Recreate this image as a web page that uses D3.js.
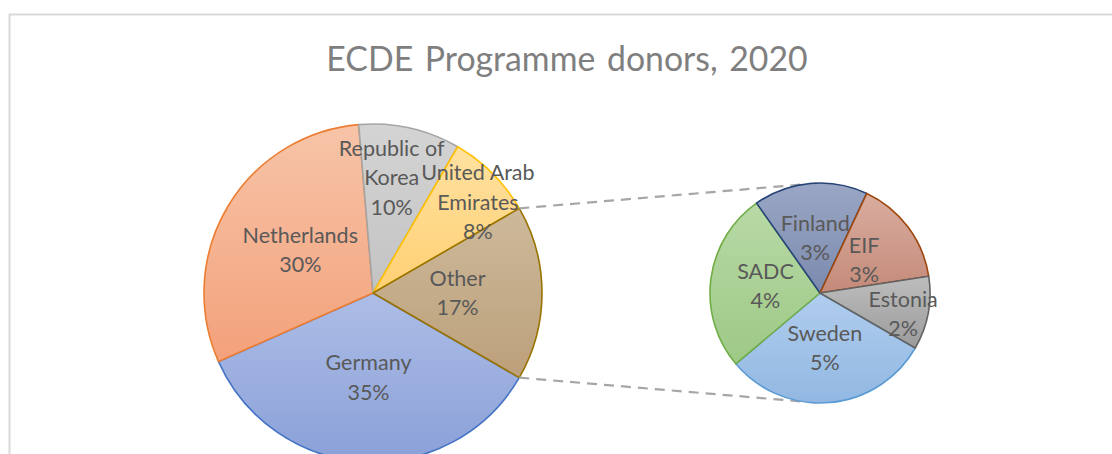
<!DOCTYPE html>
<html>
<head>
<meta charset="utf-8">
<script src="https://cdn.jsdelivr.net/npm/d3@7"></script>
<style>
  body { margin: 0; background: #fff; }
  svg { display: block; font-family: Lato, "Open Sans", sans-serif; }
</style>
</head>
<body>
<svg id="chart" width="1112" height="454"></svg>
<script>
// main pie: first four donors plus "Other", which is split in the small pie
const mainNames = ["Germany", "Netherlands", "Republic of Korea", "United Arab Emirates", "Other"];
const mainValues = [35.0, 30.3, 9.7, 8.3, 16.7];
const subNames = ["Sweden", "SADC", "Finland", "EIF", "Estonia"];
const subValues = [5.1, 4.4, 2.8, 2.6, 1.8];

// outline colour, gradient top, gradient bottom
const mainColors = [
  ["#4472C4", "#adbde6", "#8aa0d8"],
  ["#ED7D31", "#f7c4a8", "#f3a17b"],
  ["#A5A5A5", "#d4d4d4", "#c3c3c3"],
  ["#FFC000", "#ffe1a0", "#ffd073"],
  ["#997300", "#cdb99b", "#bca07a"],
];
const subColors = [
  ["#5B9BD5", "#b0cdee", "#92b8e2"],
  ["#70AD47", "#b8d9a6", "#9ec986"],
  ["#264478", "#9aa6c4", "#7b8aae"],
  ["#9E480E", "#d9ad9f", "#c48a79"],
  ["#636363", "#bdbdbd", "#9b9b9b"],
];

const svg = d3.select("#chart");
const defs = svg.append("defs");
const rad = (deg) => (deg * Math.PI) / 180;

// chart frame (runs off the right and bottom of the picture)
svg.append("rect")
  .attr("x", 9.5).attr("y", 14.5)
  .attr("width", 1200).attr("height", 500)
  .attr("fill", "none").attr("stroke", "#d9d9d9").attr("stroke-width", 2);

svg.append("text")
  .attr("x", 567).attr("y", 71)
  .attr("text-anchor", "middle")
  .style("font-size", "33.8px")
  .style("word-spacing", "3px")
  .attr("fill", "#7f7f7f")
  .text("ECDE Programme donors, 2020");

function gradient(id, top, bottom) {
  const g = defs.append("linearGradient").attr("id", id)
    .attr("x1", 0).attr("y1", 0).attr("x2", 0).attr("y2", 1);
  g.append("stop").attr("offset", "0%").attr("stop-color", top);
  g.append("stop").attr("offset", "100%").attr("stop-color", bottom);
}

// split long names onto two lines like the reference
function wrap(name) {
  const words = name.split(" ");
  const lines = [];
  let cur = "";
  words.forEach((w) => {
    if (cur && (cur + " " + w).length > 11) { lines.push(cur); cur = w; }
    else cur = cur ? cur + " " + w : w;
  });
  lines.push(cur);
  return lines;
}

// label placement tweaks for narrow slices: [radius fraction, angle shift in degrees]
const labelTweak = {
  "Republic of Korea": [0.69, -3.4],
  "United Arab Emirates": [0.82, 4.2],
  "Estonia": [0.78, 3.7],
};

function drawPie(names, values, colors, cx, cy, r, startDeg, prefix) {
  const pie = d3.pie().sort(null).value((d) => d.value)
    .startAngle(rad(startDeg)).endAngle(rad(startDeg + 360));
  const data = names.map((n, i) => ({ name: n, value: values[i], color: colors[i] }));
  const arcs = pie(data);
  const arc = d3.arc().innerRadius(0).outerRadius(r);
  const g = svg.append("g").attr("transform", `translate(${cx},${cy})`);

  arcs.forEach((a, i) => gradient(`${prefix}${i}`, a.data.color[1], a.data.color[2]));

  g.selectAll("path")
    .data(arcs)
    .join("path")
    .attr("d", arc)
    .attr("fill", (d, i) => `url(#${prefix}${i})`)
    .attr("stroke", (d) => d.data.color[0])
    .attr("stroke-width", 1.6)
    .attr("stroke-linejoin", "round");

  const total = d3.sum(mainValues);
  g.selectAll("text.lbl")
    .data(arcs)
    .join("text")
    .attr("class", "lbl")
    .attr("text-anchor", "middle")
    .attr("fill", "#595959")
    .style("font-size", "21.5px")
    .each(function (d) {
      const tw = labelTweak[d.data.name] || [0.5, 0];
      const ang = (d.startAngle + d.endAngle) / 2 + rad(tw[1]);
      const x = Math.sin(ang) * r * tw[0];
      const y = -Math.cos(ang) * r * tw[0];
      const pct = Math.round((d.data.value / total) * 100) + "%";
      const lines = wrap(d.data.name).concat([pct]);
      d3.select(this).selectAll("tspan")
        .data(lines)
        .join("tspan")
        .attr("x", x)
        .attr("y", (t, j) => y + 7.5 + (j - (lines.length - 1) / 2) * 29.5)
        .text((t) => t);
    });
  return arcs;
}

const mainR = 169, subR = 110;
const mainC = [373, 293], subC = [820, 293];

// "Other" sits centred at 3 o'clock
const otherShare = mainValues[4] / d3.sum(mainValues) * 360;
const mainStart = 90 + otherShare / 2;
const mainArcs = drawPie(mainNames, mainValues, mainColors, mainC[0], mainC[1], mainR, mainStart, "m");

// dashed connectors from the edges of "Other" to the top and bottom of the small pie
const other = mainArcs[4];
const linkG = svg.append("g");
[other.startAngle, other.endAngle].forEach((a) => {
  linkG.append("line")
    .attr("x1", mainC[0] + Math.sin(a) * mainR)
    .attr("y1", mainC[1] - Math.cos(a) * mainR)
    .attr("x2", subC[0])
    .attr("y2", subC[1] + (Math.cos(a) > 0 ? -subR : subR))
    .attr("stroke", "#a6a6a6")
    .attr("stroke-width", 2.2)
    .attr("stroke-dasharray", "10,7");
});

drawPie(subNames, subValues, subColors, subC[0], subC[1], subR, 120, "s");
</script>
</body>
</html>
